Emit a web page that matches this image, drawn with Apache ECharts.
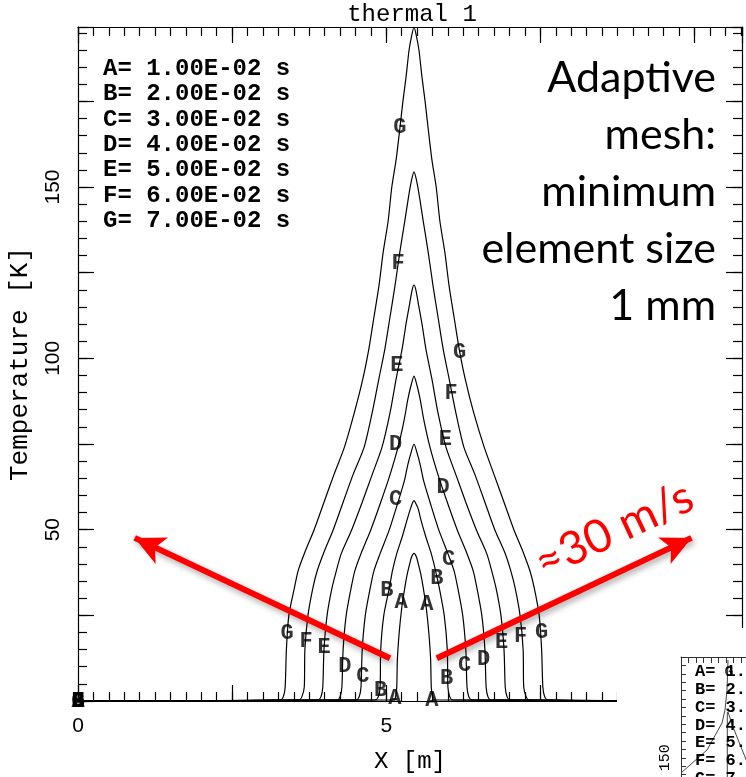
<!DOCTYPE html>
<html>
<head>
<meta charset="utf-8">
<script src="https://cdn.jsdelivr.net/npm/echarts@6/dist/echarts.min.js"></script>
<style>
  html, body { margin: 0; padding: 0; background: #fff; }
  #main { width: 746px; height: 777px; }
</style>
</head>
<body>
<div id="main"></div>
<script>
// curve names and times (legend)
var curveNames = ['A', 'B', 'C', 'D', 'E', 'F', 'G'];
var curveTimes = ['1.00E-02', '2.00E-02', '3.00E-02', '4.00E-02', '5.00E-02', '6.00E-02', '7.00E-02'];

// temperature profiles [x (m), T (K)]
var curveA = [[0,0],[5.13,0.3],[5.15,1.2],[5.17,4],[5.18,12],[5.21,20],[5.25,27],[5.30,33],[5.34,37],[5.38,40],[5.41,42],[5.45,43.1],[5.49,42],[5.52,40],[5.56,37],[5.60,33],[5.65,27],[5.69,20],[5.72,12],[5.73,4],[5.75,1.2],[5.77,0.3],[10.77,0]];
var curveB = [[0,0],[4.82,0.3],[4.87,1.2],[4.90,4],[4.91,15],[4.96,25],[5.05,33],[5.10,38],[5.17,43],[5.26,48],[5.34,53],[5.39,56],[5.43,58],[5.45,58.5],[5.47,58],[5.52,56],[5.56,53],[5.64,48],[5.73,43],[5.80,38],[5.86,33],[5.94,25],[5.99,15],[6.00,4],[6.03,1.2],[6.08,0.3],[10.77,0]];
var curveC = [[0,0],[4.51,0.3],[4.56,1.2],[4.59,4],[4.61,15],[4.66,25],[4.74,33],[4.80,38],[4.90,43],[5.05,50],[5.19,58],[5.29,64],[5.35,69],[5.41,73],[5.45,75],[5.49,73],[5.55,69],[5.61,64],[5.71,58],[5.85,50],[6.00,43],[6.10,38],[6.16,33],[6.24,25],[6.29,15],[6.31,4],[6.34,1.2],[6.39,0.3],[10.77,0]];
var curveD = [[0,0],[4.20,0.3],[4.25,1.2],[4.28,4],[4.30,15],[4.35,25],[4.43,33],[4.49,38],[4.59,43],[4.75,50],[4.91,58],[5.06,66],[5.19,74],[5.29,82],[5.35,88],[5.40,92],[5.45,94.8],[5.50,92],[5.55,88],[5.61,82],[5.71,74],[5.84,66],[5.99,58],[6.15,50],[6.31,43],[6.41,38],[6.47,33],[6.55,25],[6.60,15],[6.62,4],[6.65,1.2],[6.70,0.3],[10.77,0]];
var curveE = [[0,0],[3.89,0.3],[3.94,1.2],[3.97,4],[3.99,15],[4.04,25],[4.12,33],[4.19,38],[4.27,43],[4.44,50],[4.61,58],[4.77,66],[4.93,74],[5.06,84],[5.16,94],[5.26,103],[5.32,110],[5.38,116],[5.42,120],[5.45,121.4],[5.48,120],[5.52,116],[5.58,110],[5.64,103],[5.74,94],[5.84,84],[5.97,74],[6.13,66],[6.29,58],[6.46,50],[6.63,43],[6.71,38],[6.78,33],[6.86,25],[6.91,15],[6.93,4],[6.96,1.2],[7.01,0.3],[10.77,0]];
var curveF = [[0,0],[3.59,0.3],[3.63,1.2],[3.67,4],[3.68,15],[3.73,25],[3.81,33],[3.88,38],[3.98,43],[4.14,50],[4.30,58],[4.46,66],[4.64,74],[4.77,84],[4.88,94],[4.98,103],[5.06,112],[5.14,121],[5.22,131],[5.30,140],[5.36,147],[5.41,152],[5.45,154.4],[5.49,152],[5.54,147],[5.60,140],[5.68,131],[5.76,121],[5.84,112],[5.92,103],[6.02,94],[6.13,84],[6.26,74],[6.44,66],[6.60,58],[6.76,50],[6.93,43],[7.02,38],[7.09,33],[7.17,25],[7.22,15],[7.23,4],[7.27,1.2],[7.31,0.3],[10.77,0]];
var curveG = [[0,0],[3.28,0.3],[3.33,1.2],[3.36,4],[3.38,15],[3.42,25],[3.51,33],[3.57,38],[3.67,43],[3.83,50],[3.99,58],[4.15,66],[4.32,74],[4.48,84],[4.62,94],[4.72,103],[4.80,112],[4.88,121],[4.95,131],[5.03,140],[5.09,150],[5.16,158],[5.22,167],[5.27,175],[5.32,182],[5.37,190],[5.41,194],[5.45,196.7],[5.49,194],[5.53,190],[5.58,182],[5.63,175],[5.68,167],[5.74,158],[5.81,150],[5.87,140],[5.95,131],[6.02,121],[6.10,112],[6.18,103],[6.28,94],[6.42,84],[6.59,74],[6.75,66],[6.91,58],[7.07,50],[7.23,43],[7.33,38],[7.40,33],[7.48,25],[7.52,15],[7.54,4],[7.57,1.2],[7.62,0.3],[10.77,0]];
var curves = [curveA, curveB, curveC, curveD, curveE, curveF, curveG];

// letters written on the curves [letter, x, T]
var curveLabels = [
  ['G',5.22,167.5],['F',5.19,127.8],['E',5.17,97.8],['D',5.15,75.0],['C',5.15,58.7],['B',5.01,32.4],['A',5.24,28.9],
  ['G',6.19,101.8],['F',6.05,89.9],['E',5.96,76.2],['D',5.92,62.4],['C',6.01,41.4],['B',5.82,35.9],['A',5.66,28.3],
  ['G',3.39,19.8],['F',3.70,17.5],['E',3.99,15.5],['D',4.33,10.2],['C',4.62,7.3],['B',4.91,3.2],['A',5.14,0.6],
  ['A',5.74,0.3],['B',5.98,6.7],['C',6.27,10.5],['D',6.58,12.0],['E',6.87,17.2],['F',7.18,18.7],['G',7.52,20.1],
  ['A',0,0],['B',0,0],['C',0,0],['D',0,0],['E',0,0],['F',0,0],['G',0,0]
];

// tick labels shown
var xLabelValues = [0, 5];
var yLabelValues = [50, 100, 150];

// red arrows [from, to] in data units
var arrows = [[[5.06,12.5],[0.92,47.6]], [[5.82,12.5],[9.95,47.6]]];

// cropped inset chart at the bottom right (its own pixel-like units)
var insetLeftBranch = [[0,116],[26,93],[41,66],[44,53],[46,33],[47,3]];
var insetMidBranch = [[46.3,55],[46.3,90],[46.3,120]];
var insetRightBranch = [[47,55],[52,70],[58,85],[66,105]];
var insetLabels = [['G',48,15]];

var X_MAX = 10.77, Y_MAX = 196.7;
var mono = 'Liberation Mono';
var black = '#000';
var lineSt = {color: black, width: 1.2};

function hasValue(list, v) {
  for (var i = 0; i < list.length; i++) if (Math.abs(list[i] - v) < 1e-6) return true;
  return false;
}

function xAx(pos, interval, len, withLabels) {
  var a = {
    type: 'value', gridIndex: 0, position: pos, min: 0, max: X_MAX, interval: interval,
    axisLine: {show: interval > 1, onZero: false, lineStyle: lineSt},
    axisTick: {show: true, inside: true, length: len, lineStyle: lineSt},
    axisLabel: {show: false},
    splitLine: {show: false}
  };
  if (withLabels) {
    a.axisLabel = {
      show: true, margin: 15, color: black, fontSize: 21, fontFamily: 'Liberation Sans',
      formatter: function (v) { return hasValue(xLabelValues, v) ? String(v) : ''; }
    };
    a.name = 'X [m]';
    a.nameLocation = 'middle';
    a.nameGap = 49;
    a.nameTextStyle = {fontFamily: mono, fontSize: 24, color: black};
  }
  return a;
}

function yAx(pos, interval, len, withLabels) {
  var a = {
    type: 'value', gridIndex: 0, position: pos, min: 0, max: Y_MAX, interval: interval,
    axisLine: {show: interval > 10, onZero: false, lineStyle: lineSt},
    axisTick: {show: true, inside: true, length: len, lineStyle: lineSt},
    axisLabel: {show: false},
    splitLine: {show: false}
  };
  if (withLabels) {
    a.axisLabel = {
      show: true, rotate: 90, margin: 14, color: black, fontSize: 21, fontFamily: 'Liberation Sans',
      formatter: function (v) { return hasValue(yLabelValues, v) ? String(v) : ''; }
    };
    a.name = 'Temperature [K]';
    a.nameLocation = 'middle';
    a.nameRotate = 90;
    a.nameGap = 45;
    a.nameTextStyle = {fontFamily: mono, fontSize: 26, color: black};
  }
  return a;
}

var series = [];
curves.forEach(function (c, i) {
  series.push({
    name: curveNames[i], type: 'line', data: c, xAxisIndex: 0, yAxisIndex: 0,
    showSymbol: false, smooth: 0.25, silent: true,
    lineStyle: {color: black, width: 1.2}
  });
});

series.push({
  type: 'scatter', xAxisIndex: 0, yAxisIndex: 0, symbolSize: 1, silent: true,
  itemStyle: {color: 'rgba(0,0,0,0)'},
  data: curveLabels.map(function (l) { return {name: l[0], value: [l[1], l[2]]}; }),
  label: {show: true, position: 'inside', formatter: '{b}', color: black, fontSize: 22, fontWeight: 'bold', fontFamily: mono},
  z: 5
});

series.push({
  type: 'line', xAxisIndex: 0, yAxisIndex: 0, data: [[0, 0]], showSymbol: false,
  lineStyle: {opacity: 0}, silent: true, z: 6,
  markLine: {
    silent: true, symbol: ['none', 'arrow'], symbolSize: [22, 30],
    label: {show: false},
    lineStyle: {color: '#ff0000', width: 6, type: 'solid', shadowColor: 'rgba(0,0,0,0.35)', shadowBlur: 6, shadowOffsetX: 2, shadowOffsetY: 3},
    emphasis: {disabled: true},
    data: arrows.map(function (a) { return [{coord: a[0]}, {coord: a[1]}]; })
  }
});

// inset
[insetLeftBranch, insetMidBranch, insetRightBranch].forEach(function (c) {
  series.push({
    type: 'line', data: c, xAxisIndex: 4, yAxisIndex: 4, showSymbol: false, silent: true,
    lineStyle: {color: '#444', width: 1}, z: 120
  });
});
series.push({
  type: 'scatter', xAxisIndex: 4, yAxisIndex: 4, symbolSize: 1, silent: true, z: 121,
  itemStyle: {color: 'rgba(0,0,0,0)'},
  data: insetLabels.map(function (l) { return {name: l[0], value: [l[1], l[2]]}; }),
  label: {show: true, position: 'inside', formatter: '{b}', color: black, fontSize: 15, fontWeight: 'bold', fontFamily: mono}
});

var legendText = curveNames.map(function (n, i) { return n + '= ' + curveTimes[i] + ' s'; }).join('\n');

var option = {
  animation: false,
  backgroundColor: '#fff',
  textStyle: {fontFamily: mono},
  grid: [
    {left: 78, top: 27, width: 664, height: 674, containLabel: false, outerBoundsMode: 'none'},
    {left: 681, top: 657, width: 100, height: 120, containLabel: false, outerBoundsMode: 'none'}
  ],
  xAxis: [
    xAx('bottom', 2.5, 16, true),
    xAx('bottom', 0.25, 9, false),
    xAx('top', 2.5, 16, false),
    xAx('top', 0.25, 9, false),
    {
      type: 'value', gridIndex: 1, position: 'top', min: 0, max: 100, interval: 7.5, z: 120,
      axisLine: {show: true, onZero: false, lineStyle: {color: '#333', width: 1}},
      axisTick: {show: true, inside: true, length: 6, lineStyle: {color: '#333', width: 1}},
      axisLabel: {show: false}, splitLine: {show: false}
    }
  ],
  yAxis: [
    yAx('left', 25, 16, true),
    yAx('left', 5, 9, false),
    yAx('right', 25, 16, false),
    yAx('right', 5, 9, false),
    {
      type: 'value', gridIndex: 1, position: 'left', inverse: true, min: 0, max: 120, interval: 8.4, z: 120,
      axisLine: {show: true, onZero: false, lineStyle: {color: '#333', width: 1}},
      axisTick: {show: true, inside: true, length: 5, lineStyle: {color: '#333', width: 1}},
      axisLabel: {
        show: true, rotate: 90, margin: 8, color: black, fontSize: 15, fontFamily: mono,
        formatter: function (v) { return Math.abs(v - 100.8) < 0.5 ? '150' : ''; }
      },
      splitLine: {show: false}
    }
  ],
  graphic: [
    {type: 'text', x: 412, y: 15, z: 50,
      style: {text: 'thermal 1', fontFamily: mono, fontSize: 24, fill: black, align: 'center', verticalAlign: 'middle'}},
    {type: 'text', x: 103, y: 56, z: 50,
      style: {text: legendText, fontFamily: mono, fontSize: 24, fontWeight: 'bold', lineHeight: 25.4, fill: black, align: 'left', verticalAlign: 'top'}},
    {type: 'text', x: 716, y: 49.5, z: 50,
      style: {text: 'Adaptive\nmesh:\nminimum\nelement size\n1 mm', fontFamily: 'Lato', fontSize: 43, lineHeight: 57, fill: black, align: 'right', verticalAlign: 'top'}},
    {type: 'text', x: 614, y: 530, rotation: 25 * Math.PI / 180, z: 50,
      style: {text: '\u224830 m/s', fontFamily: 'Lato', fontSize: 46, fill: '#ff0000', align: 'center', verticalAlign: 'middle'}},
    {type: 'rect', z: 100, shape: {x: 617, y: 628, width: 140, height: 160}, style: {fill: '#fff'}},
    {type: 'text', x: 695, y: 663, z: 130,
      style: {text: legendText, fontFamily: mono, fontSize: 17, fontWeight: 'bold', lineHeight: 17.8, fill: black, align: 'left', verticalAlign: 'top'}}
  ],
  series: series
};

var myChart = echarts.init(document.getElementById('main'), null, {renderer: 'canvas'});
myChart.setOption(option);
window.addEventListener('resize', myChart.resize);
</script>
</body>
</html>
